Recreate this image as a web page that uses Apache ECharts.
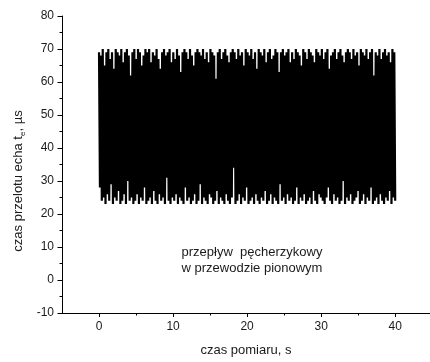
<!DOCTYPE html>
<html>
<head>
<meta charset="utf-8">
<script src="https://cdn.jsdelivr.net/npm/echarts@6/dist/echarts.min.js"></script>
<style>
  html, body { margin: 0; padding: 0; background: #fff; }
  #chart { width: 430px; height: 362px; }
</style>
</head>
<body>
<div id="chart"></div>
<script>
// upper turning points of the signal (µs)
const peaks = [
  69,68,70,65,69,70,67,69,64,70,69,68,70,66,69,70,68,62,69,70,
  67,70,69,65,68,70,69,70,66,69,68,70,67,64,69,70,68,69,70,66,
  69,67,70,68,63,69,70,69,67,70,68,65,69,70,69,68,70,67,69,66,
  70,69,68,61,69,70,67,69,70,68,66,69,70,69,67,70,68,69,65,70,
  69,68,70,67,69,64,70,69,68,70,66,69,70,67,68,70,69,63,69,70,
  68,69,70,66,69,67,70,69,68,65,70,69,67,70,69,68,66,70,69,68,
  70,67,69,70,64,68,69,70,67,69,70,68,66,69,70,69,67,70,68,69,
  65,70,69,68,70,67,69,70,62,69,68,70,67,69,70,68,69,66,70,69
];
// lower turning points of the signal (µs)
const troughs = [
  28,24,25,23,26,24,29,23,25,24,27,23,24,26,23,30,24,25,23,24,
  26,23,25,24,28,23,24,25,23,27,24,23,26,24,25,23,31,24,23,25,
  24,26,23,25,24,23,28,24,25,23,24,26,23,24,29,23,25,24,23,26,
  25,23,24,27,23,25,24,23,26,24,23,25,34,23,24,26,23,25,24,28,
  23,24,25,23,26,24,23,25,24,27,23,24,26,23,25,24,23,29,24,25,
  23,26,24,25,23,24,28,23,25,24,26,23,24,25,23,27,24,23,26,25,
  24,23,25,28,24,23,26,24,25,23,24,30,23,25,24,26,23,24,25,27,
  23,24,26,23,25,24,28,23,24,25,23,26,24,23,25,24,27,23,25,24
];
const duration = 40; // s
const xMajor = [0, 10, 20, 30, 40];
const xMinor = [5, 15, 25, 35];

const values = [];
peaks.forEach((p, i) => { values.push(p, troughs[i]); });
const signal = values.map((v, k) => [k * duration / (values.length - 1), v]);

const txt = '#1a1a1a';
const font = 'Liberation Sans, Arial, sans-serif';

const chart = echarts.init(document.getElementById('chart'));
chart.setOption({
  animation: false,
  grid: { left: 62, right: 0, top: 16, bottom: 46 },
  xAxis: [{
    type: 'value', min: -5, max: 44.7, position: 'bottom',
    splitLine: { show: false },
    axisLine: { onZero: false, lineStyle: { color: '#000', width: 1 } },
    axisTick: { customValues: xMajor, length: 4, lineStyle: { color: '#000' } },
    axisLabel: { customValues: xMajor, color: txt, fontSize: 12, fontFamily: font, margin: 8 },
    name: 'czas pomiaru, s', nameLocation: 'middle', nameGap: 31,
    nameTextStyle: { color: txt, fontSize: 13, fontFamily: font }
  }, {
    type: 'value', min: -5, max: 44.7, position: 'bottom',
    splitLine: { show: false },
    axisLine: { show: false, onZero: false },
    axisTick: { customValues: xMinor, length: 2.5, lineStyle: { color: '#000' } },
    axisLabel: { show: false }
  }],
  yAxis: {
    type: 'value', min: -10, max: 80, interval: 10,
    splitLine: { show: false },
    axisLine: { show: true, onZero: false, lineStyle: { color: '#000', width: 1 } },
    axisTick: { show: true, length: 4.5, lineStyle: { color: '#000' } },
    minorTick: { show: true, splitNumber: 2, length: 2.5, lineStyle: { color: '#000' } },
    axisLabel: { color: txt, fontSize: 12, fontFamily: font, margin: 8 }
  },
  graphic: [{
    type: 'text', x: 18, y: 181, rotation: Math.PI / 2,
    style: {
      text: 'czas przelotu echa t{sub|e}, µs',
      fill: txt, font: '13px ' + font,
      align: 'center', verticalAlign: 'middle',
      rich: { sub: { fontSize: 8, fontFamily: font, fill: txt, verticalAlign: 'bottom', padding: [0, 0, -2, 0] } }
    }
  }, {
    type: 'text', x: 252, y: 260,
    style: {
      text: 'przepływ  pęcherzykowy\nw przewodzie pionowym',
      fill: txt, font: '13px ' + font, lineHeight: 16,
      align: 'center', verticalAlign: 'middle'
    }
  }],
  series: [{
    type: 'line', data: signal, xAxisIndex: 0,
    showSymbol: false, sampling: 'none', silent: true,
    lineStyle: { color: '#000', width: 2.2 }
  }]
});
</script>
</body>
</html>
